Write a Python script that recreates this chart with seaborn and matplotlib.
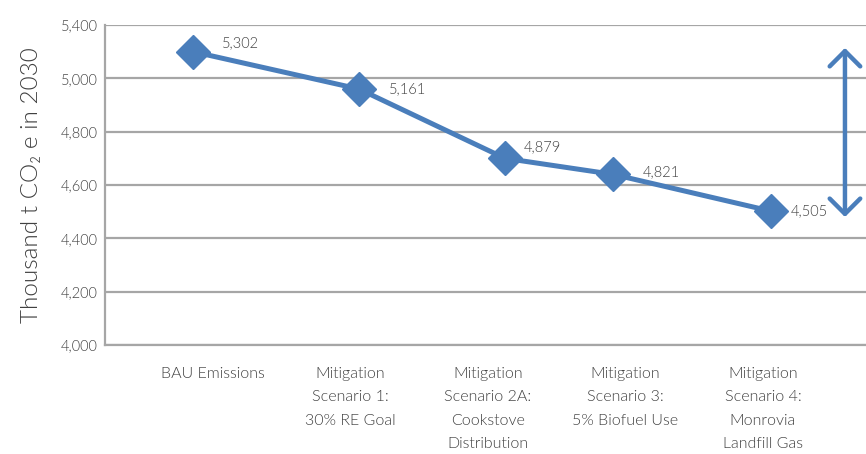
import matplotlib
matplotlib.use('Agg')
import matplotlib.pyplot as plt
import seaborn as sns
import pandas as pd

# categories shown on the x axis
categories = [
    'BAU Emissions',
    'Mitigation\nScenario 1:\n30% RE Goal',
    'Mitigation\nScenario 2A:\nCookstove\nDistribution',
    'Mitigation\nScenario 3:\n5% Biofuel Use',
    'Mitigation\nScenario 4:\nMonrovia\nLandfill Gas',
]
# where the markers sit (in category units, they are not centred on the labels)
point_pos = [-0.145, 1.062, 2.124, 2.909, 4.058]
# plotted heights
plotted = [5100, 4960, 4700, 4640, 4502]
# value labels printed next to the markers
value_labels = ['5,302', '5,161', '4,879', '4,821', '4,505']
# y tick values and the labels printed on them
y_ticks = [4000, 4200, 4400, 4600, 4800, 5000, 5200]
y_tick_labels = ['4,000', '4,200', '4,400', '4,600', '4,800', '5,000', '5,400']
# range arrow on the right
arrow_pos = 4.596
arrow_range = [5114, 4480]

BLUE = '#4A7EBB'
GRID = '#A6A6A6'
TEXT = '#404040'
W = 300  # Lato Light

sns.set_style('white')
plt.rcParams['font.family'] = ['Lato', 'DejaVu Sans']

df = pd.DataFrame({'pos': point_pos, 'value': plotted, 'label': value_labels})

fig = plt.figure(figsize=(8.66, 4.54), dpi=100)
ax = fig.add_axes([0.1212, 0.2401, 0.8788, 0.7048])

sns.lineplot(data=df, x='pos', y='value', ax=ax, color=BLUE, lw=3.6,
             marker='D', markersize=17, markeredgecolor=BLUE, markeredgewidth=1,
             zorder=3)

# value labels (offsets in pixels)
label_offsets = [(29, 9), (30, 0), (19, 11), (30, 2), (20, 0)]
for (_, r), (dx, dy) in zip(df.iterrows(), label_offsets):
    ax.annotate(r['label'], (r['pos'], r['value']), xytext=(dx * 0.72, dy * 0.72),
                textcoords='offset points', ha='left', va='center',
                fontsize=10.5, color=TEXT, fontweight=W)

# double headed arrow showing the reduction range
ax.annotate('', xy=(arrow_pos, arrow_range[0]), xytext=(arrow_pos, arrow_range[1]),
            arrowprops=dict(arrowstyle='<->, head_length=0.55, head_width=0.55',
                            mutation_scale=20, lw=3.2, color=BLUE,
                            shrinkA=0, shrinkB=0), zorder=4)

ax.set_xlim(-0.785, 4.749)
ax.set_ylim(4000, 5200)
ax.set_xticks(range(len(categories)))
ax.set_xticklabels(categories, fontsize=11.5, color=TEXT, linespacing=1.84,
                   fontweight=W)
ax.set_yticks(y_ticks)
ax.set_yticklabels(y_tick_labels, fontsize=10.5, color=TEXT, fontweight=W)
ax.tick_params(axis='x', length=0, pad=16)
ax.tick_params(axis='y', length=0, pad=5)

ax.grid(axis='y', color=GRID, lw=1.6)
ax.set_axisbelow(True)
for side in ['top', 'right']:
    ax.spines[side].set_visible(False)
for side in ['left', 'bottom']:
    ax.spines[side].set_color(GRID)
    ax.spines[side].set_linewidth(1.6)

ax.set_xlabel('')
ax.set_ylabel('Thousand t CO\u2082 e in 2030', fontsize=17.5, color=TEXT,
              fontweight=W, labelpad=14)

fig.savefig('out.png', dpi=100)
